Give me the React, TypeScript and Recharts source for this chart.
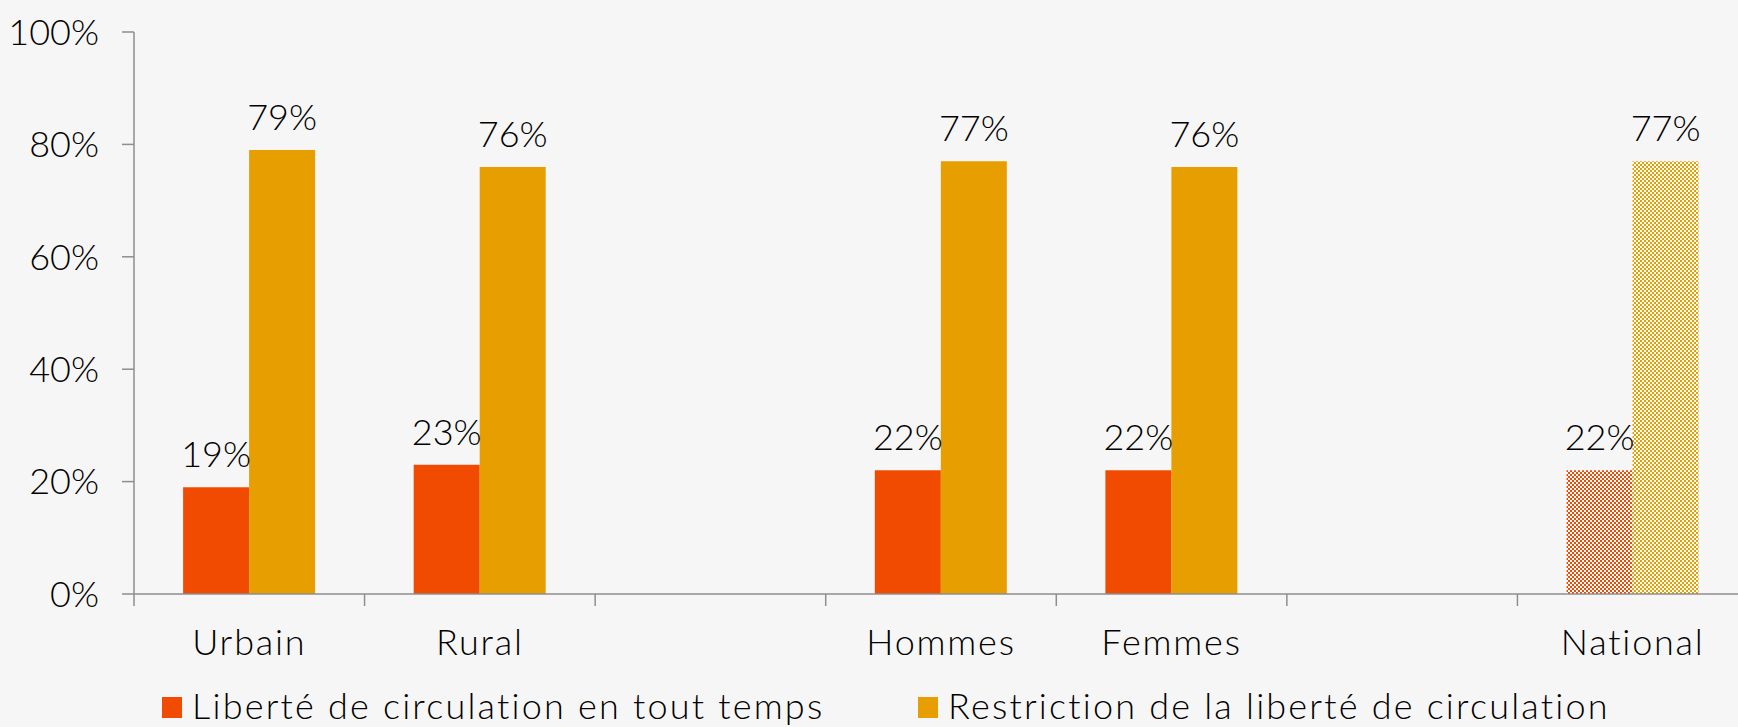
import React from 'react';
import { BarChart, Bar, XAxis, YAxis, LabelList, Cell, Legend } from 'recharts';

// categories (blank slots separate the groups on the axis)
const categories = ['Urbain', 'Rural', '', 'Hommes', 'Femmes', '', 'National'];
const liberte = [19, 23, null, 22, 22, null, 22];
const restriction = [79, 76, null, 77, 76, null, 77];
const yTicks = [0, 20, 40, 60, 80, 100];
const patterned = ['National'];
const seriesNames = [
  'Liberté de circulation en tout temps',
  'Restriction de la liberté de circulation',
];

const RED = '#F04B00';
const GOLD = '#E69E00';
const AXIS = '#8e8e8e';
const FONT = 'Lato, "Open Sans", sans-serif';
const FONT_SIZE = 36;
const X_LABEL_GAP = 35;

const data = categories.map((name, i) => ({
  name,
  liberte: liberte[i],
  restriction: restriction[i],
}));

const BoundaryTick = (props: any) => {
  const { x, y, payload, width, visibleTicksCount } = props;
  const half = payload.offset ?? width / visibleTicksCount / 2;
  const axisY = y - X_LABEL_GAP;
  const left = x - half;
  return (
    <g>
      <line x1={left} x2={left} y1={axisY} y2={axisY + 12} stroke={AXIS} strokeWidth={1.5} />
      <text
        x={x}
        y={y}
        dy="0.71em"
        textAnchor="middle"
        fontFamily={FONT}
        fontSize={FONT_SIZE}
        fontWeight={300}
        letterSpacing={1.8}
        fill="#000"
      >
        {payload.value}
      </text>
    </g>
  );
};

const ChartLegend = () => (
  <div
    style={{
      position: 'relative',
      width: 1738,
      height: 40,
      fontFamily: FONT,
      fontSize: FONT_SIZE,
      fontWeight: 300,
      letterSpacing: 2.2,
    }}
  >
    {seriesNames.map((name, i) => (
      <div
        key={name}
        style={{
          position: 'absolute',
          left: i === 0 ? 162 : 918,
          top: 0,
          height: 40,
          display: 'flex',
          alignItems: 'flex-start',
        }}
      >
        <div
          style={{
            width: 20,
            height: 21,
            marginTop: 10,
            background: i === 0 ? RED : GOLD,
          }}
        />
        <span style={{ marginLeft: 10, lineHeight: '36px', color: '#000', whiteSpace: 'nowrap' }}>
          {name}
        </span>
      </div>
    ))}
  </div>
);

export default function App() {
  return (
    <div
      style={{
        position: 'fixed',
        left: 0,
        top: 0,
        width: 1738,
        height: 727,
        overflow: 'hidden',
        background: '#f6f6f6',
      }}
    >
      <BarChart
        width={1760}
        height={727}
        data={data}
        margin={{ top: 32, right: 12, left: 0, bottom: 0 }}
        barCategoryGap="21.3%"
        barGap={0}
      >
        <defs>
          <pattern id="checkRed" width="4" height="4" patternUnits="userSpaceOnUse">
            <rect width="4" height="4" fill="#ffffff" />
            <rect width="2" height="2" fill={RED} />
            <rect x="2" y="2" width="2" height="2" fill={RED} />
          </pattern>
          <pattern id="checkGold" width="4" height="4" patternUnits="userSpaceOnUse">
            <rect width="4" height="4" fill="#ffffff" />
            <rect width="2" height="2" fill={GOLD} />
            <rect x="2" y="2" width="2" height="2" fill={GOLD} />
          </pattern>
        </defs>
        <XAxis
          dataKey="name"
          height={93}
          tickLine={false}
          tickSize={0}
          tickMargin={X_LABEL_GAP}
          axisLine={{ stroke: AXIS, strokeWidth: 1.5 }}
          tick={<BoundaryTick />}
          interval={0}
        />
        <YAxis
          width={134}
          domain={[0, 100]}
          ticks={yTicks}
          tickFormatter={(v: number) => `${v}%`}
          tickSize={12}
          tickMargin={23}
          axisLine={{ stroke: AXIS, strokeWidth: 1.5 }}
          tickLine={{ stroke: AXIS, strokeWidth: 1.5 }}
          tick={{ fill: '#000', fontFamily: FONT, fontSize: FONT_SIZE, fontWeight: 300 }}
        />
        <Legend
          verticalAlign="bottom"
          height={40}
          wrapperStyle={{ left: 0, bottom: 0, width: 1738, height: 40 }}
          content={<ChartLegend />}
        />
        <Bar dataKey="liberte" name={seriesNames[0]} fill={RED} isAnimationActive={false}>
          {data.map((d, i) => (
            <Cell key={`l-${i}`} fill={patterned.includes(d.name) ? 'url(#checkRed)' : RED} />
          ))}
          <LabelList
            dataKey="liberte"
            position="top"
            offset={20}
            formatter={(v: any) => (v == null ? '' : `${v}%`)}
            style={{ fill: '#000', fontFamily: FONT, fontSize: FONT_SIZE, fontWeight: 300 }}
          />
        </Bar>
        <Bar dataKey="restriction" name={seriesNames[1]} fill={GOLD} isAnimationActive={false}>
          {data.map((d, i) => (
            <Cell key={`r-${i}`} fill={patterned.includes(d.name) ? 'url(#checkGold)' : GOLD} />
          ))}
          <LabelList
            dataKey="restriction"
            position="top"
            offset={20}
            formatter={(v: any) => (v == null ? '' : `${v}%`)}
            style={{ fill: '#000', fontFamily: FONT, fontSize: FONT_SIZE, fontWeight: 300 }}
          />
        </Bar>
      </BarChart>
    </div>
  );
}
